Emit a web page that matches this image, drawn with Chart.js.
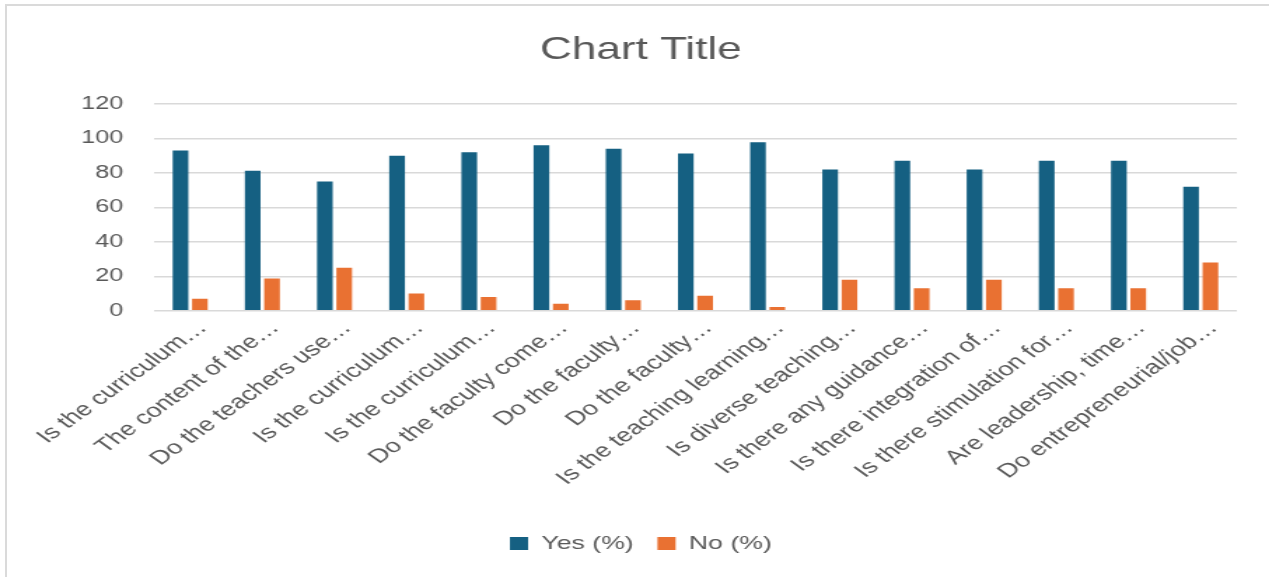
<!DOCTYPE html>
<html>
<head>
<meta charset="utf-8">
<script src="https://cdn.jsdelivr.net/npm/chart.js@4.4.1/dist/chart.umd.min.js"></script>
<style>
  html, body { margin: 0; padding: 0; background: #fff; overflow: hidden; }
  #frame {
    position: absolute; left: 5px; top: 4px; right: 0; bottom: 0;
    border-top: 2px solid #dadada; border-left: 2px solid #dadada;
    pointer-events: none;
  }
  #wrap {
    position: absolute; left: 0; top: 0;
    width: 906px; height: 577px;
    transform: scaleX(1.4007); transform-origin: 0 0;
  }
  #survey-chart { width: 906px; height: 577px; }
</style>
</head>
<body>
<div id="wrap"><canvas id="survey-chart" width="906" height="577"></canvas></div>
<div id="frame"></div>
<script>
const questions = [
    'Is the curriculum…',
    'The content of the…',
    'Do the teachers use…',
    'Is the curriculum…',
    'Is the curriculum…',
    'Do the faculty come…',
    'Do the faculty…',
    'Do the faculty…',
    'Is the teaching learning…',
    'Is diverse teaching…',
    'Is there any guidance…',
    'Is there integration of…',
    'Is there stimulation for…',
    'Are leadership, time…',
    'Do entrepreneurial/job…'
];
const yesPct = [93, 81.3, 75, 90, 92, 96, 94, 91.3, 97.8, 82, 87, 82, 87, 87, 72];
const noPct = [7, 18.7, 25, 10, 8, 4, 6, 8.7, 2.2, 18, 13, 18, 13, 13, 28];
const yTicks = [0, 20, 40, 60, 80, 100, 120];

const textColor = '#595959';
const fontFamily = '"Liberation Sans", Arial, sans-serif';

new Chart(document.getElementById('survey-chart'), {
    type: 'bar',
    data: {
        labels: questions,
        datasets: [
            { label: 'Yes (%)', data: yesPct, backgroundColor: '#156082' },
            { label: 'No (%)', data: noPct, backgroundColor: '#e97132' }
        ]
    },
    options: {
        responsive: false,
        devicePixelRatio: 1,
        animation: false,
        categoryPercentage: 0.536,
        barPercentage: 0.81,
        layout: { padding: { top: 10, left: 32, right: 23, bottom: 14 } },
        plugins: {
            title: {
                display: true,
                text: 'Chart Title',
                color: textColor,
                font: { family: fontFamily, size: 31.5, weight: 'normal' },
                padding: { top: 21.4, bottom: 34.8 }
            },
            legend: {
                position: 'bottom',
                labels: {
                    color: textColor,
                    font: { family: fontFamily, size: 19 },
                    boxWidth: 13,
                    boxHeight: 13,
                    padding: 17
                }
            },
            tooltip: { enabled: false }
        },
        scales: {
            x: {
                grid: { display: false },
                border: { display: false },
                ticks: {
                    color: textColor,
                    font: { family: fontFamily, size: 19.5 },
                    autoSkip: false,
                    minRotation: 45,
                    maxRotation: 45,
                    labelOffset: 9,
                    padding: -2
                },
                afterFit(scale) { scale.height = 206.3; }
            },
            y: {
                min: 0,
                max: 120,
                afterBuildTicks(scale) { scale.ticks = yTicks.map(v => ({ value: v })); },
                grid: { color: '#d9d9d9', lineWidth: 1.5, drawTicks: false },
                border: { display: false },
                ticks: {
                    color: textColor,
                    font: { family: fontFamily, size: 18 },
                    padding: 22
                },
                afterFit(scale) { scale.width = 78; }
            }
        }
    }
});
</script>
</body>
</html>
